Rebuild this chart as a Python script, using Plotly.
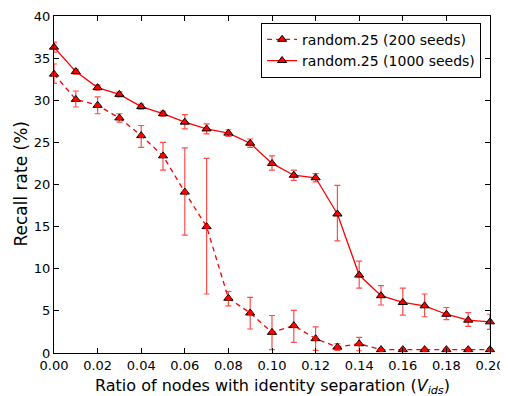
import plotly.graph_objects as go

x_vals = [0.00, 0.01, 0.02, 0.03, 0.04, 0.05, 0.06, 0.07, 0.08, 0.09, 0.10,
          0.11, 0.12, 0.13, 0.14, 0.15, 0.16, 0.17, 0.18, 0.19, 0.20]

# random.25 (200 seeds) - dashed
y200 = [33.1, 30.1, 29.4, 27.9, 25.8, 23.4, 19.1, 15.0, 6.5, 4.75, 2.45,
        3.25, 1.7, 0.7, 1.1, 0.4, 0.4, 0.4, 0.4, 0.4, 0.4]
e200_hi = [1.2, 1.0, 1.0, 0.5, 1.2, 1.6, 5.25, 8.1, 0.8, 1.85, 2.0,
           1.8, 1.4, 0.4, 0.75, 0.15, 0.15, 0.15, 0.15, 0.15, 0.15]
e200_lo = [1.1, 0.9, 1.0, 0.5, 1.4, 1.7, 5.1, 8.0, 0.9, 1.9, 2.05,
           2.0, 1.4, 0.4, 0.83, 0.15, 0.15, 0.15, 0.15, 0.15, 0.15]

# random.25 (1000 seeds) - solid
y1000 = [36.3, 33.4, 31.5, 30.7, 29.25, 28.4, 27.4, 26.6, 26.1, 24.9, 22.5,
         21.1, 20.8, 16.5, 9.25, 6.8, 6.0, 5.6, 4.6, 3.9, 3.7]
e1000_hi = [0.6, 0.3, 0.3, 0.3, 0.3, 0.3, 0.9, 0.6, 0.4, 0.5, 0.9,
            0.6, 0.5, 3.4, 1.65, 1.2, 1.7, 1.4, 0.8, 0.9, 0.9]
e1000_lo = [0.6, 0.3, 0.3, 0.3, 0.3, 0.3, 0.8, 0.6, 0.4, 0.5, 0.8,
            0.6, 0.5, 3.2, 1.55, 1.1, 1.5, 1.3, 0.65, 0.75, 0.9]

x_ticks = [0.00, 0.02, 0.04, 0.06, 0.08, 0.10, 0.12, 0.14, 0.16, 0.18, 0.20]
x_tick_text = ["0.00", "0.02", "0.04", "0.06", "0.08", "0.10", "0.12",
               "0.14", "0.16", "0.18", "0.20"]
y_ticks = [0, 5, 10, 15, 20, 25, 30, 35, 40]

x_title = "Ratio of nodes with identity separation (<i>V</i><sub><i>ids</i></sub>)"
y_title = "Recall rate (%)"

marker = dict(symbol="triangle-up", size=8, color="red",
              line=dict(color="black", width=1))
err_color = "rgba(255,0,0,0.7)"

fig = go.Figure()
fig.add_trace(go.Scatter(
    x=x_vals, y=y200, mode="lines+markers", name="random.25 (200 seeds)",
    line=dict(color="red", width=1.3, dash="5px,4px"), marker=marker,
    error_y=dict(type="data", symmetric=False, array=e200_hi,
                 arrayminus=e200_lo, color=err_color,
                 thickness=1.2, width=3),
    cliponaxis=False,
))
fig.add_trace(go.Scatter(
    x=x_vals, y=y200, mode="markers", showlegend=False, hoverinfo="skip",
    marker=dict(symbol="circle", size=5, color="red", line=dict(width=0)),
    cliponaxis=False,
))
fig.add_trace(go.Scatter(
    x=x_vals, y=y1000, mode="lines+markers", name="random.25 (1000 seeds)",
    line=dict(color="red", width=1.3), marker=marker,
    error_y=dict(type="data", symmetric=False, array=e1000_hi,
                 arrayminus=e1000_lo, color=err_color,
                 thickness=1.2, width=3),
    cliponaxis=False,
))

font = "DejaVu Sans, sans-serif"
# page body has an 8px default margin, so the figure is 8px smaller
fig.update_layout(
    width=500, height=388,
    margin=dict(l=46, r=18, t=8, b=43, autoexpand=False),
    paper_bgcolor="white", plot_bgcolor="white",
    font=dict(family=font, size=13, color="black"),
    showlegend=True,
    legend=dict(x=0.475, y=0.98, xanchor="left", yanchor="top",
                bgcolor="white", bordercolor="black", borderwidth=1,
                font=dict(size=14, family=font),
                itemwidth=30, tracegroupgap=0),
    xaxis=dict(range=[0, 0.2], tickvals=x_ticks, ticktext=x_tick_text,
               ticks="inside", ticklen=5, tickcolor="black", automargin=False,
               showline=True, linecolor="black", linewidth=1, mirror="ticks",
               showgrid=False, zeroline=False),
    yaxis=dict(range=[0, 40], tickvals=y_ticks,
               ticks="inside", ticklen=5, tickcolor="black", automargin=False,
               showline=True, linecolor="black", linewidth=1, mirror="ticks",
               showgrid=False, zeroline=False),
    annotations=[
        dict(text=x_title, xref="paper", yref="paper", x=0.5, y=0,
             xanchor="center", yanchor="top", yshift=-21, showarrow=False,
             font=dict(size=16, family=font)),
        dict(text=y_title, xref="paper", yref="paper", x=0, y=0.5,
             xanchor="center", yanchor="middle", xshift=-34, textangle=-90,
             showarrow=False, font=dict(size=17, family=font)),
    ],
)

fig.write_html("out.html")
